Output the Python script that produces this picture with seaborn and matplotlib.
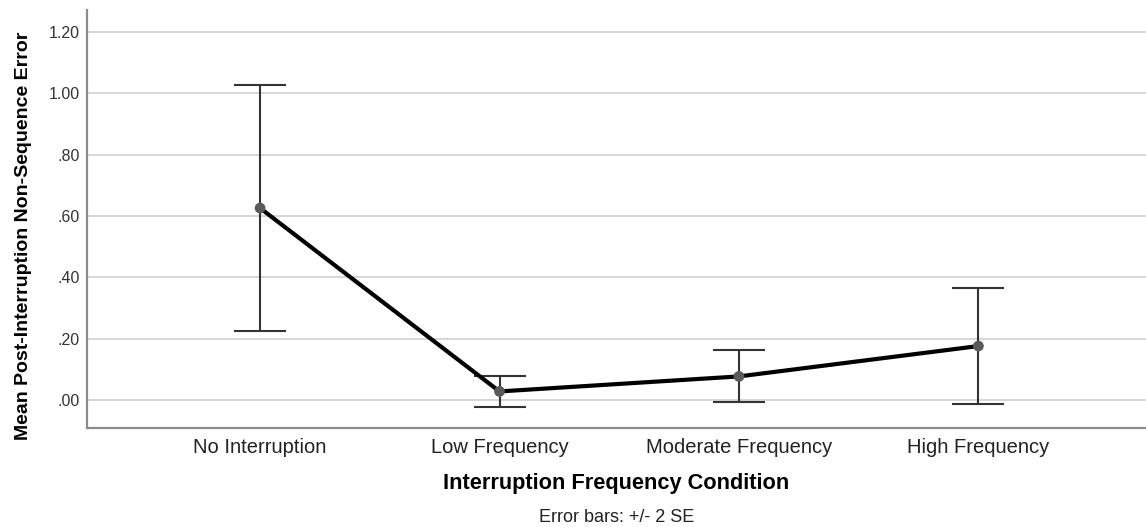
import matplotlib
matplotlib.use("Agg")
import matplotlib.pyplot as plt
import seaborn as sns
import pandas as pd

# Mean post-interruption non-sequence error per condition, with +/- 2 SE
conditions = ["No Interruption", "Low Frequency", "Moderate Frequency", "High Frequency"]
mean_error = [0.626, 0.028, 0.077, 0.176]
two_se = [0.402, 0.050, 0.085, 0.188]
y_ticks = [0.0, 0.2, 0.4, 0.6, 0.8, 1.0, 1.2]
y_tick_labels = [".00", ".20", ".40", ".60", ".80", "1.00", "1.20"]

df = pd.DataFrame({"condition": conditions, "mean": mean_error, "se2": two_se})

sns.set_theme(style="white")
plt.rcParams["font.family"] = ["Liberation Sans", "DejaVu Sans"]

fig = plt.figure(figsize=(11.46, 5.27), dpi=100)
ax = fig.add_axes([0.0759, 0.188, 0.9241, 0.793])

# gridlines behind everything
for t in y_ticks:
    ax.axhline(t, color="#cfcfcf", lw=1.2, zorder=0)

sns.pointplot(data=df, x="condition", y="mean", order=conditions,
              color="black", errorbar=None, markers="o",
              linestyles="-", ax=ax, zorder=3,
              markersize=0, linewidth=3.0)

xpos = list(range(len(conditions)))
ax.errorbar(xpos, df["mean"], yerr=df["se2"], fmt="none",
            ecolor="#333333", elinewidth=1.5, capsize=18.7, capthick=1.5,
            zorder=2)
ax.scatter(xpos, df["mean"], s=60, color="#5a5a5a", zorder=4,
           edgecolor="none")

ax.set_xlim(-0.723, 3.70)
ax.set_ylim(-0.091, 1.272)
ax.set_yticks(y_ticks)
ax.set_yticklabels(y_tick_labels)

for side in ["top", "right"]:
    ax.spines[side].set_visible(False)
for side in ["left", "bottom"]:
    ax.spines[side].set_color("#8c8c8c")
    ax.spines[side].set_linewidth(1.6)

ax.tick_params(axis="y", length=0, labelsize=11.5, labelcolor="#333333", pad=5)
ax.tick_params(axis="x", length=0, labelsize=14.5, labelcolor="#222222", pad=7)

ax.set_ylabel("Mean Post-Interruption Non-Sequence Error", fontsize=14,
              fontweight="bold", color="black")
ax.yaxis.set_label_coords(-0.052, 0.46)
ax.set_xlabel("Interruption Frequency Condition", fontsize=15.7,
              fontweight="bold", color="black", labelpad=12)

ax.text(0.5, -0.215, "Error bars: +/- 2 SE", transform=ax.transAxes,
        ha="center", va="center", fontsize=13, color="#222222")

fig.savefig("out.png", dpi=100)
